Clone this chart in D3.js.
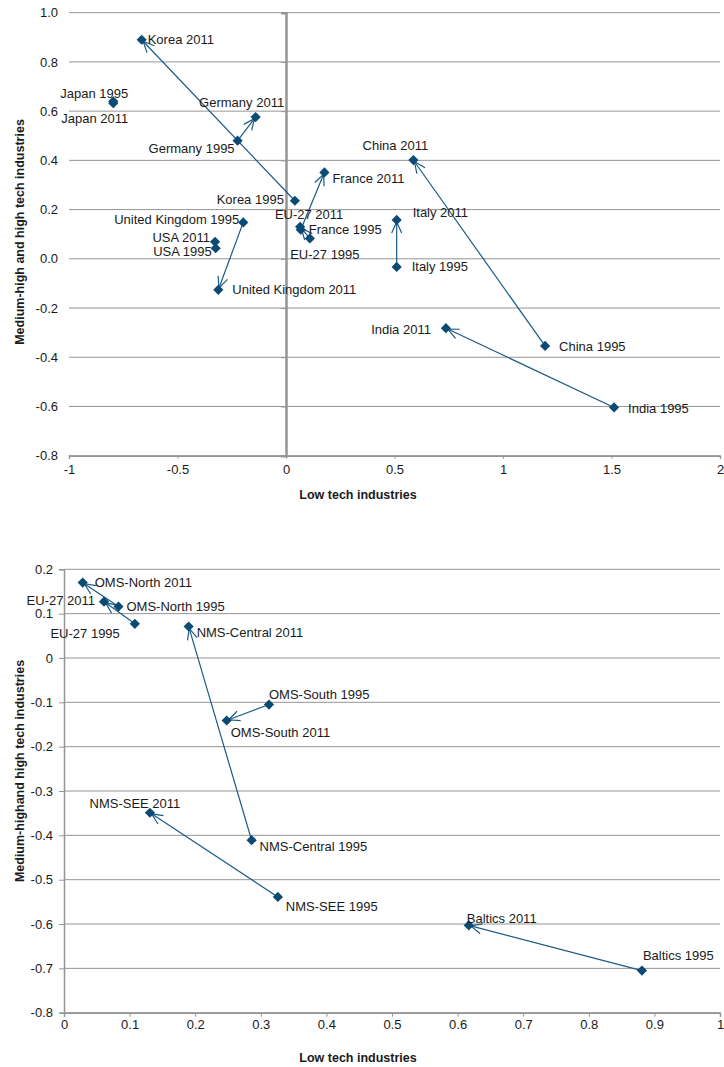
<!DOCTYPE html>
<html>
<head>
<meta charset="utf-8">
<script src="https://cdn.jsdelivr.net/npm/d3@7"></script>
<style>
  body { margin: 0; background: #fff; }
  svg text { font-family: "Liberation Sans", Arial, sans-serif; fill: #1a1a1a; }
  .tick text { font-size: 13px; }
  .axis-title { font-size: 12.5px; font-weight: bold; }
  .pt-label { font-size: 13px; }
</style>
</head>
<body>
<svg id="chart" width="724" height="1067"></svg>
<script>
// Datos - panel superior (paises)
const topRegions = ['Korea', 'Japan', 'Germany', 'France', 'EU-27', 'United Kingdom', 'USA', 'Italy', 'China', 'India'];
const topLow1995 = [0.041, -0.796, -0.223, 0.068, 0.110, -0.197, -0.324, 0.510, 1.194, 1.512];
const topHigh1995 = [0.236, 0.640, 0.480, 0.118, 0.083, 0.148, 0.043, -0.033, -0.354, -0.604];
const topLow2011 = [-0.665, -0.796, -0.140, 0.177, 0.065, -0.312, -0.327, 0.510, 0.587, 0.737];
const topHigh2011 = [0.890, 0.632, 0.576, 0.351, 0.130, -0.126, 0.069, 0.158, 0.401, -0.282];
const topXTicks = [-1, -0.5, 0, 0.5, 1, 1.5, 2];
const topYTicks = [-0.8, -0.6, -0.4, -0.2, 0, 0.2, 0.4, 0.6, 0.8, 1.0];

// Datos - panel inferior (grupos UE)
const botRegions = ['OMS-North', 'EU-27', 'NMS-Central', 'OMS-South', 'NMS-SEE', 'Baltics'];
const botLow1995 = [0.083, 0.108, 0.286, 0.3125, 0.326, 0.881];
const botHigh1995 = [0.116, 0.077, -0.411, -0.105, -0.539, -0.705];
const botLow2011 = [0.0285, 0.061, 0.190, 0.248, 0.131, 0.617];
const botHigh2011 = [0.170, 0.127, 0.071, -0.141, -0.349, -0.603];
const botXTicks = [0, 0.1, 0.2, 0.3, 0.4, 0.5, 0.6, 0.7, 0.8, 0.9, 1];
const botYTicks = [-0.8, -0.7, -0.6, -0.5, -0.4, -0.3, -0.2, -0.1, 0, 0.1, 0.2];

const xTitle = 'Low tech industries';
const yTitleTop = 'Medium-high and high tech industries';
const yTitleBot = 'Medium-highand high tech industries';

// Colocacion de etiquetas [dx, dy, anchor]
const topLab1995 = [[-11, -1, 'end'], [15, -8, 'end'], [-3, 8, 'end'], [8, 0, 'start'], [15, 16, 'middle'],
  [-4, -3, 'end'], [-4, 3, 'end'], [15, 0, 'start'], [14, 1, 'start'], [14, 1, 'start']];
const topLab2011 = [[6, 0, 'start'], [15, 15, 'end'], [-14, -15, 'middle'], [8, 6, 'start'], [9, -12, 'middle'],
  [14, 0, 'start'], [-5, -4, 'end'], [16, -7, 'start'], [-18, -15, 'middle'], [-15, 1, 'end']];
const botLab1995 = [[8, 0, 'start'], [-15, 10, 'end'], [8, 6, 'start'], [0, -10, 'start'], [8, 9, 'start'], [1, -15, 'start']];
const botLab2011 = [[12, 0, 'start'], [-9, -1, 'end'], [8, 6, 'start'], [4, 12, 'start'], [-15, -9, 'middle'], [-2, -7, 'start']];

const markerColor = '#0b4a73';
const lineColor = '#1b5a86';
const gridColor = '#959595';

const svg = d3.select('#chart');

svg.append('defs').append('marker')
    .attr('id', 'arrow')
    .attr('viewBox', '-12 -6 14 12')
    .attr('refX', 0).attr('refY', 0)
    .attr('markerWidth', 14).attr('markerHeight', 12)
    .attr('markerUnits', 'userSpaceOnUse')
    .attr('orient', 'auto')
    .append('path')
    .attr('d', 'M-11,-5 L0,0 L-11,5')
    .attr('fill', 'none')
    .attr('stroke', lineColor)
    .attr('stroke-width', 1.2);

function drawPanel(cfg) {
    const g = svg.append('g');
    const x = d3.scaleLinear().domain(cfg.xDomain).range(cfg.xRange);
    const y = d3.scaleLinear().domain(cfg.yDomain).range(cfg.yRange);

    // Lineas de cuadricula
    g.selectAll('.grid').data(cfg.yTicks).enter().append('line')
        .attr('x1', cfg.xRange[0]).attr('x2', cfg.xRange[1])
        .attr('y1', d => y(d)).attr('y2', d => y(d))
        .attr('stroke', gridColor).attr('stroke-width', 1);

    // Eje X
    const xAxis = g.append('g')
        .attr('transform', `translate(0,${cfg.yRange[0]})`)
        .call(d3.axisBottom(x).tickValues(cfg.xTicks).tickSize(cfg.xTickSize).tickPadding(cfg.xTickPad)
            .tickFormat(d => String(+d.toFixed(1))));
    xAxis.select('.domain').attr('stroke', gridColor).attr('stroke-width', 1.5);
    xAxis.selectAll('.tick line').attr('stroke', gridColor);
    xAxis.selectAll('.tick text').attr('fill', '#1a1a1a');

    // Eje Y (linea)
    const yLine = g.append('g')
        .attr('transform', `translate(${x(cfg.yAxisAt)},0)`)
        .call(d3.axisLeft(y).tickValues(cfg.yTicks).tickSize(5).tickFormat(''));
    yLine.select('.domain').attr('stroke', gridColor).attr('stroke-width', cfg.yAxisWidth);
    yLine.selectAll('.tick line').attr('stroke', gridColor);

    // Etiquetas Y
    const yLabels = g.append('g')
        .attr('transform', `translate(${cfg.yLabelX},0)`)
        .call(d3.axisLeft(y).tickValues(cfg.yTicks).tickSize(0).tickPadding(0).tickFormat(cfg.yFormat));
    yLabels.select('.domain').remove();
    yLabels.selectAll('.tick text').attr('fill', '#1a1a1a');

    // Titulos
    g.append('text').attr('class', 'axis-title')
        .attr('x', cfg.xTitlePos[0]).attr('y', cfg.xTitlePos[1])
        .attr('text-anchor', 'middle').attr('dy', '0.35em')
        .text(xTitle);
    g.append('text').attr('class', 'axis-title')
        .attr('transform', `translate(${cfg.yTitlePos[0]},${cfg.yTitlePos[1]}) rotate(-90)`)
        .attr('text-anchor', 'middle').attr('dy', '0.35em')
        .text(cfg.yTitle);

    const idx = d3.range(cfg.regions.length);

    // Flechas 1995 -> 2011
    idx.forEach(i => {
        const x1 = x(cfg.low1995[i]), y1 = y(cfg.high1995[i]);
        const x2 = x(cfg.low2011[i]), y2 = y(cfg.high2011[i]);
        const len = Math.hypot(x2 - x1, y2 - y1);
        if (len < 8) return;
        const k = (len - 2) / len;
        g.append('line')
            .attr('x1', x1).attr('y1', y1)
            .attr('x2', x1 + (x2 - x1) * k).attr('y2', y1 + (y2 - y1) * k)
            .attr('stroke', lineColor).attr('stroke-width', 1.2)
            .attr('marker-end', 'url(#arrow)');
    });

    // Marcadores
    const diamond = d3.symbol().type(d3.symbolSquare).size(52);
    const pts = [];
    idx.forEach(i => {
        pts.push({ x: cfg.low1995[i], y: cfg.high1995[i], label: cfg.regions[i] + ' 1995', pos: cfg.lab1995[i] });
        pts.push({ x: cfg.low2011[i], y: cfg.high2011[i], label: cfg.regions[i] + ' 2011', pos: cfg.lab2011[i] });
    });
    g.selectAll('.pt').data(pts).enter().append('path')
        .attr('d', diamond)
        .attr('transform', d => `translate(${x(d.x)},${y(d.y)}) rotate(45)`)
        .attr('fill', markerColor);

    g.selectAll('.pt-label').data(pts).enter().append('text')
        .attr('class', 'pt-label')
        .attr('x', d => x(d.x) + d.pos[0])
        .attr('y', d => y(d.y) + d.pos[1])
        .attr('dy', '0.35em')
        .attr('text-anchor', d => d.pos[2])
        .text(d => d.label);
}

drawPanel({
    regions: topRegions, low1995: topLow1995, high1995: topHigh1995, low2011: topLow2011, high2011: topHigh2011,
    lab1995: topLab1995, lab2011: topLab2011,
    xDomain: [-1, 2], xRange: [69, 720], yDomain: [-0.8, 1], yRange: [455.7, 12.7],
    xTicks: topXTicks, yTicks: topYTicks, xTickSize: 3, xTickPad: 6,
    yAxisAt: 0, yAxisWidth: 2.5, yLabelX: 58,
    yFormat: d => d.toFixed(1),
    xTitlePos: [358, 495], yTitlePos: [20, 232], yTitle: yTitleTop
});

drawPanel({
    regions: botRegions, low1995: botLow1995, high1995: botHigh1995, low2011: botLow2011, high2011: botHigh2011,
    lab1995: botLab1995, lab2011: botLab2011,
    xDomain: [0, 1], xRange: [64, 720], yDomain: [-0.8, 0.2], yRange: [1012.7, 569.3],
    xTicks: botXTicks, yTicks: botYTicks, xTickSize: 4, xTickPad: 3,
    yAxisAt: 0, yAxisWidth: 1.5, yLabelX: 53,
    yFormat: d => String(+d.toFixed(1)),
    xTitlePos: [358, 1058], yTitlePos: [20, 771], yTitle: yTitleBot
});
</script>
</body>
</html>
